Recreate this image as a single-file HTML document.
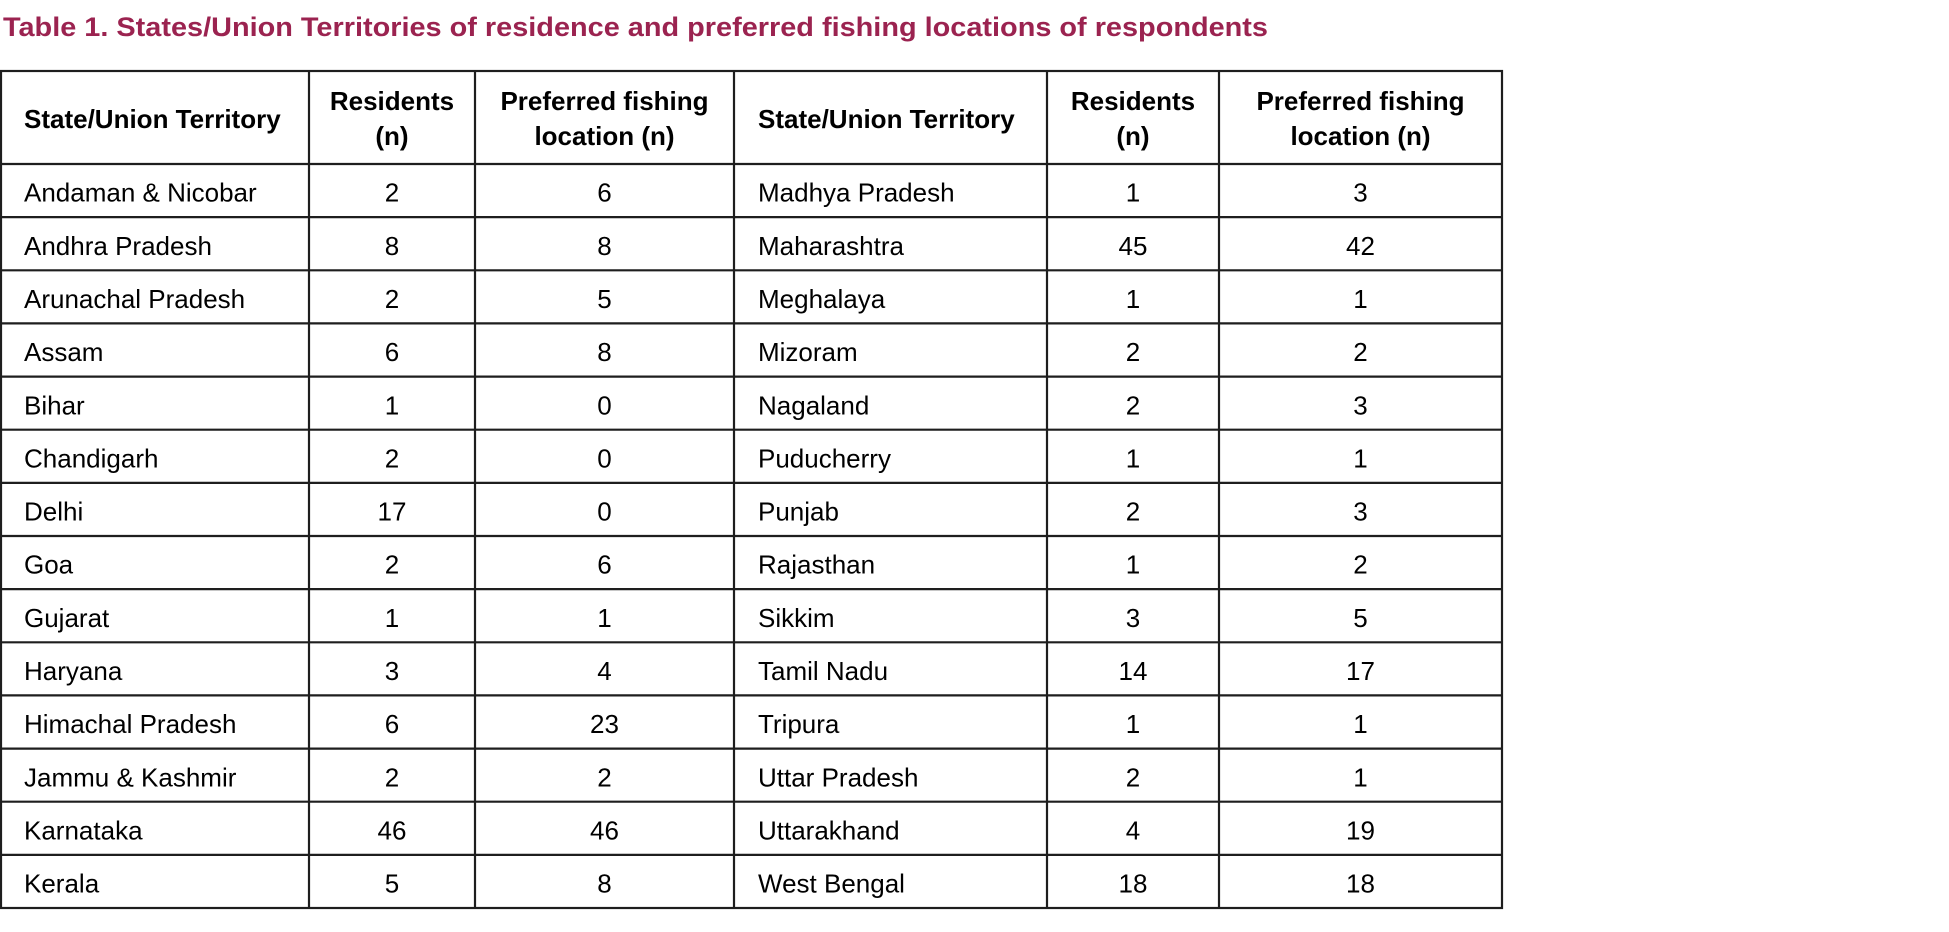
<!DOCTYPE html>
<html>
<head>
<meta charset="utf-8">
<style>
html,body{margin:0;padding:0;background:#fff;}
svg{display:block;}
text{font-family:"Liberation Sans",Arial,sans-serif;fill:#000;}
.b{font-weight:bold;}
</style>
</head>
<body>
<svg width="1949" height="932" viewBox="0 0 1949 932" xmlns="http://www.w3.org/2000/svg">
<rect width="1949" height="932" fill="#fff"/>
<text x="3" y="36" font-size="27" font-weight="bold" style="fill:#9b2350" textLength="1265" lengthAdjust="spacingAndGlyphs">Table 1. States/Union Territories of residence and preferred fishing locations of respondents</text>

<g stroke="#1e1e1e" stroke-width="2.2" fill="none">
<rect x="1" y="71" width="1501" height="837"/>
<line x1="309" y1="71" x2="309" y2="908"/>
<line x1="475" y1="71" x2="475" y2="908"/>
<line x1="734" y1="71" x2="734" y2="908"/>
<line x1="1047" y1="71" x2="1047" y2="908"/>
<line x1="1219" y1="71" x2="1219" y2="908"/>
<line x1="1" y1="164" x2="1502" y2="164"/>
<line x1="1" y1="217.1" x2="1502" y2="217.1"/>
<line x1="1" y1="270.3" x2="1502" y2="270.3"/>
<line x1="1" y1="323.4" x2="1502" y2="323.4"/>
<line x1="1" y1="376.6" x2="1502" y2="376.6"/>
<line x1="1" y1="429.7" x2="1502" y2="429.7"/>
<line x1="1" y1="482.9" x2="1502" y2="482.9"/>
<line x1="1" y1="536" x2="1502" y2="536"/>
<line x1="1" y1="589.1" x2="1502" y2="589.1"/>
<line x1="1" y1="642.3" x2="1502" y2="642.3"/>
<line x1="1" y1="695.4" x2="1502" y2="695.4"/>
<line x1="1" y1="748.6" x2="1502" y2="748.6"/>
<line x1="1" y1="801.7" x2="1502" y2="801.7"/>
<line x1="1" y1="854.9" x2="1502" y2="854.9"/>
</g>

<g class="b" font-size="26" font-weight="bold">
<text x="24" y="128">State/Union Territory</text>
<text x="392" y="110" text-anchor="middle">Residents</text>
<text x="392" y="145" text-anchor="middle">(n)</text>
<text x="604.5" y="110" text-anchor="middle">Preferred fishing</text>
<text x="604.5" y="145" text-anchor="middle">location (n)</text>
<text x="758" y="128">State/Union Territory</text>
<text x="1133" y="110" text-anchor="middle">Residents</text>
<text x="1133" y="145" text-anchor="middle">(n)</text>
<text x="1360.5" y="110" text-anchor="middle">Preferred fishing</text>
<text x="1360.5" y="145" text-anchor="middle">location (n)</text>
</g>

<g font-size="26">
<!-- left names -->
<g>
<text x="24" y="201.7">Andaman &amp; Nicobar</text>
<text x="24" y="254.8">Andhra Pradesh</text>
<text x="24" y="308">Arunachal Pradesh</text>
<text x="24" y="361.1">Assam</text>
<text x="24" y="414.3">Bihar</text>
<text x="24" y="467.4">Chandigarh</text>
<text x="24" y="520.6">Delhi</text>
<text x="24" y="573.7">Goa</text>
<text x="24" y="626.8">Gujarat</text>
<text x="24" y="680">Haryana</text>
<text x="24" y="733.1">Himachal Pradesh</text>
<text x="24" y="786.3">Jammu &amp; Kashmir</text>
<text x="24" y="839.4">Karnataka</text>
<text x="24" y="892.6">Kerala</text>
</g>
<g text-anchor="middle">
<text x="392" y="201.7">2</text>
<text x="392" y="254.8">8</text>
<text x="392" y="308">2</text>
<text x="392" y="361.1">6</text>
<text x="392" y="414.3">1</text>
<text x="392" y="467.4">2</text>
<text x="392" y="520.6">17</text>
<text x="392" y="573.7">2</text>
<text x="392" y="626.8">1</text>
<text x="392" y="680">3</text>
<text x="392" y="733.1">6</text>
<text x="392" y="786.3">2</text>
<text x="392" y="839.4">46</text>
<text x="392" y="892.6">5</text>

<text x="604.5" y="201.7">6</text>
<text x="604.5" y="254.8">8</text>
<text x="604.5" y="308">5</text>
<text x="604.5" y="361.1">8</text>
<text x="604.5" y="414.3">0</text>
<text x="604.5" y="467.4">0</text>
<text x="604.5" y="520.6">0</text>
<text x="604.5" y="573.7">6</text>
<text x="604.5" y="626.8">1</text>
<text x="604.5" y="680">4</text>
<text x="604.5" y="733.1">23</text>
<text x="604.5" y="786.3">2</text>
<text x="604.5" y="839.4">46</text>
<text x="604.5" y="892.6">8</text>
</g>
<!-- right names -->
<g>
<text x="758" y="201.7">Madhya Pradesh</text>
<text x="758" y="254.8">Maharashtra</text>
<text x="758" y="308">Meghalaya</text>
<text x="758" y="361.1">Mizoram</text>
<text x="758" y="414.3">Nagaland</text>
<text x="758" y="467.4">Puducherry</text>
<text x="758" y="520.6">Punjab</text>
<text x="758" y="573.7">Rajasthan</text>
<text x="758" y="626.8">Sikkim</text>
<text x="758" y="680">Tamil Nadu</text>
<text x="758" y="733.1">Tripura</text>
<text x="758" y="786.3">Uttar Pradesh</text>
<text x="758" y="839.4">Uttarakhand</text>
<text x="758" y="892.6">West Bengal</text>
</g>
<g text-anchor="middle">
<text x="1133" y="201.7">1</text>
<text x="1133" y="254.8">45</text>
<text x="1133" y="308">1</text>
<text x="1133" y="361.1">2</text>
<text x="1133" y="414.3">2</text>
<text x="1133" y="467.4">1</text>
<text x="1133" y="520.6">2</text>
<text x="1133" y="573.7">1</text>
<text x="1133" y="626.8">3</text>
<text x="1133" y="680">14</text>
<text x="1133" y="733.1">1</text>
<text x="1133" y="786.3">2</text>
<text x="1133" y="839.4">4</text>
<text x="1133" y="892.6">18</text>

<text x="1360.5" y="201.7">3</text>
<text x="1360.5" y="254.8">42</text>
<text x="1360.5" y="308">1</text>
<text x="1360.5" y="361.1">2</text>
<text x="1360.5" y="414.3">3</text>
<text x="1360.5" y="467.4">1</text>
<text x="1360.5" y="520.6">3</text>
<text x="1360.5" y="573.7">2</text>
<text x="1360.5" y="626.8">5</text>
<text x="1360.5" y="680">17</text>
<text x="1360.5" y="733.1">1</text>
<text x="1360.5" y="786.3">1</text>
<text x="1360.5" y="839.4">19</text>
<text x="1360.5" y="892.6">18</text>
</g>
</g>
</svg>
</body>
</html>
